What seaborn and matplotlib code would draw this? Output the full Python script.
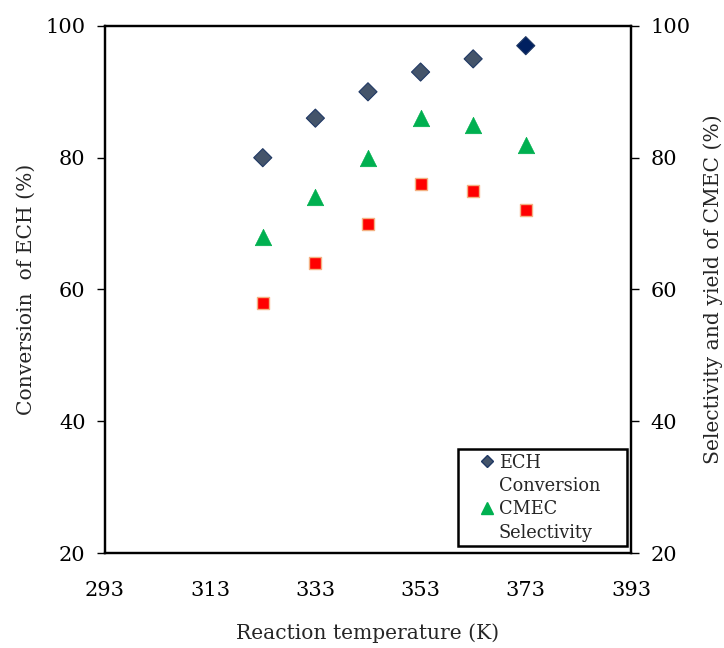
import matplotlib
matplotlib.use("Agg")
import matplotlib.pyplot as plt
import seaborn as sns
import pandas as pd
from matplotlib.lines import Line2D

temps = [323, 333, 343, 353, 363, 373]
ech_conversion = [80, 86, 90, 93, 95, 97]
cmec_selectivity = [68, 74, 80, 86, 85, 82]
cmec_yield = [58, 64, 70, 76, 75, 72]
x_ticks = [293, 313, 333, 353, 373, 393]
y_ticks = [20, 40, 60, 80, 100]

sns.set_theme(style="white")
plt.rcParams['font.family'] = ['DejaVu Serif']

FS_TICK = 15
FS_LAB = 14.6

fig = plt.figure(figsize=(7.24, 6.48), dpi=100)
ax = fig.add_axes([0.145, 0.1466, 0.7265, 0.8134])
ax2 = ax.twinx()

df = pd.DataFrame({"T": temps, "ech": ech_conversion, "sel": cmec_selectivity,
                   "yld": cmec_yield})
df["hl"] = ["n"] * (len(temps) - 1) + ["y"]

sns.scatterplot(data=df, x="T", y="ech", hue="hl", palette={"n": "#44546A", "y": "#002060"},
                marker="D", s=85, edgecolor="#1F3864", linewidth=0.8, ax=ax, legend=False, zorder=3)
sns.scatterplot(data=df, x="T", y="sel", color="#00B050", marker="^", s=140,
                edgecolor="#00B050", linewidth=0.5, ax=ax2, legend=False, zorder=3)
sns.scatterplot(data=df, x="T", y="yld", color="#FF0000", marker="s", s=85,
                edgecolor="#F4B183", linewidth=1.0, ax=ax2, legend=False, zorder=3)

for a in (ax, ax2):
    a.set_xlim(293, 393)
    a.set_ylim(20, 100)
    a.set_yticks(y_ticks)
    for sp in a.spines.values():
        sp.set_linewidth(1.6)
        sp.set_color("black")
    a.tick_params(direction="out", length=6, width=1.0, colors="black", labelsize=FS_TICK)
    a.grid(False)

ax.set_xticks(x_ticks)
ax.set_xlabel("Reaction temperature (K)", fontsize=FS_LAB, labelpad=17)
ax.set_ylabel("Conversioin  of ECH (%)", fontsize=FS_LAB, labelpad=7)
ax2.set_ylabel("Selectivity and yield of CMEC (%)", fontsize=FS_LAB, labelpad=9)
ax.tick_params(axis="x", pad=14)
ax.tick_params(axis="y", pad=8)
ax2.tick_params(axis="y", pad=8)

blank = Line2D([], [], linestyle="none", marker=None)
handles = [
    Line2D([], [], marker="D", linestyle="none", markerfacecolor="#44546A",
           markeredgecolor="#1F3864", markersize=6.5),
    blank,
    Line2D([], [], marker="^", linestyle="none", markerfacecolor="#00B050",
           markeredgecolor="#00B050", markersize=9),
    blank,
]
labels = ["ECH", "Conversion    ", "CMEC", "Selectivity"]
leg = ax2.legend(handles, labels, loc="lower right", bbox_to_anchor=(0.993, 0.013),
                 fontsize=12.8, frameon=True, fancybox=False, borderpad=0.25,
                 handletextpad=-0.7, handlelength=2.75, labelspacing=0.3,
                 borderaxespad=0.0)
leg.get_frame().set_edgecolor("black")
leg.get_frame().set_linewidth(1.8)
leg.get_frame().set_alpha(1)

fig.savefig("out.png", dpi=100)
